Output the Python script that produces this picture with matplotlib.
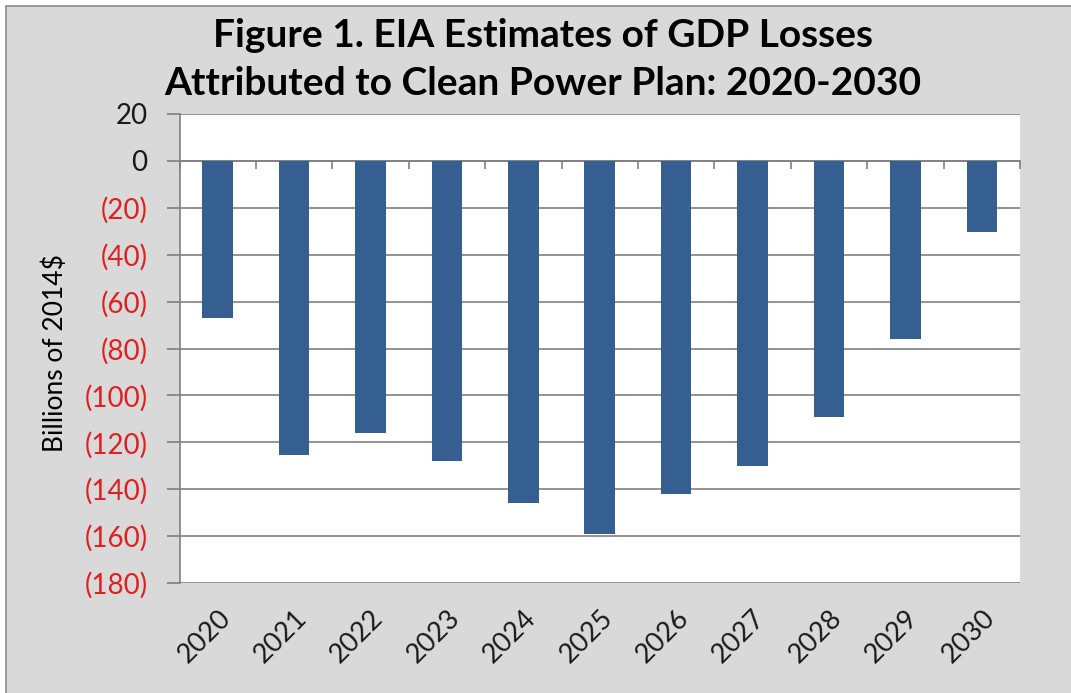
import matplotlib.pyplot as plt
from matplotlib.patches import Rectangle

plt.rcParams['font.family'] = ['Lato', 'DejaVu Sans']

# data (billions of 2014$)
years = ['2020', '2021', '2022', '2023', '2024', '2025',
         '2026', '2027', '2028', '2029', '2030']
gdp_loss = [-67, -125.5, -116, -128, -146, -159, -142, -130, -109, -76, -30.5]
yticks = [20, 0, -20, -40, -60, -80, -100, -120, -140, -160, -180]

W, H = 1071, 693
fig = plt.figure(figsize=(W / 100, H / 100), dpi=100, facecolor='white')

# grey chart area with thin border
fig.patches.append(Rectangle((6 / W, -0.01), 1.0, 1 - 6 / H + 0.01,
                             transform=fig.transFigure, facecolor='#d9d9d9',
                             edgecolor='#8a8a8a', linewidth=1.2, zorder=-10))

ax = fig.add_axes([179.5 / W, 1 - 583 / H, (1020 - 179.5) / W, (583 - 114) / H])
ax.set_facecolor('white')

x = range(len(years))
ax.bar(x, gdp_loss, width=0.4, color='#355e91', zorder=3)

ax.set_xlim(-0.5, len(years) - 0.5)
ax.set_ylim(-180, 20)
ax.set_yticks(yticks)
ax.set_yticklabels([f'({-v})' if v < 0 else f'{v}' for v in yticks])
for lab, v in zip(ax.get_yticklabels(), yticks):
    lab.set_color('#e02020' if v < 0 else '#1a1a1a')
ax.tick_params(axis='y', direction='out', length=9.5, width=1.2,
               color='#808080', pad=13.5, labelsize=20)
ax.grid(axis='y', color='#808080', linewidth=1.2, zorder=1)

ax.set_xticks(list(x))
ax.set_xticklabels(years, rotation=45, ha='right', va='top',
                   rotation_mode='anchor', fontsize=19.5, color='#1a1a1a')
ax.tick_params(axis='x', length=0, pad=16)

for s in ['top', 'right', 'bottom']:
    ax.spines[s].set_visible(False)
ax.spines['left'].set_color('#808080')
ax.spines['left'].set_linewidth(1.2)

# category axis drawn along zero with ticks between bars
zero_ax = ax.secondary_xaxis(180 / 200)
zero_ax.set_xticks([i - 0.5 for i in range(len(years) + 1)])
zero_ax.set_xticklabels([])
zero_ax.tick_params(direction='in', length=6, width=1.2, color='#808080')
zero_ax.spines['top'].set_color('#808080')
zero_ax.spines['top'].set_linewidth(1.2)

ax.set_ylabel('Billions of 2014$', fontsize=19)
ax.yaxis.set_label_coords((68 - 179.5) / 840.5, 0.49)

fig.text(543 / W, 1 - 47 / H, 'Figure 1. EIA Estimates of GDP Losses',
         ha='center', va='baseline', fontsize=28, fontweight='bold')
fig.text(543 / W, 1 - 95 / H, 'Attributed to Clean Power Plan: 2020-2030',
         ha='center', va='baseline', fontsize=28, fontweight='bold')

fig.savefig('out.png', dpi=100, facecolor=fig.get_facecolor())
